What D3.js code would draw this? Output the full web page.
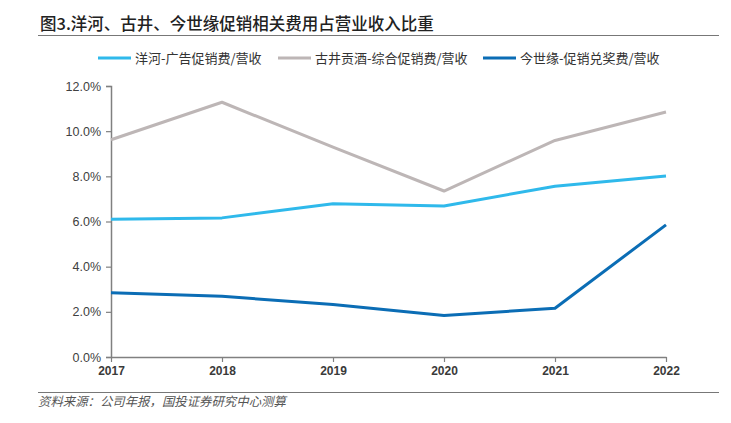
<!DOCTYPE html>
<html>
<head>
<meta charset="utf-8">
<script src="https://cdn.jsdelivr.net/npm/d3@7"></script>
<style>
  body { margin: 0; background: #fff; }
  text { font-family: "Noto Sans CJK SC", sans-serif; }
</style>
</head>
<body>
<script>
const years = ['2017', '2018', '2019', '2020', '2021', '2022'];
const yanghe = [6.10, 6.16, 6.79, 6.69, 7.56, 8.01];
const gujing = [9.62, 11.28, 9.29, 7.35, 9.59, 10.85];
const jinshiyuan = [2.85, 2.69, 2.32, 1.84, 2.16, 5.85];
const yTicks = [0, 2, 4, 6, 8, 10, 12];
const seriesNames = ['洋河-广告促销费/营收', '古井贡酒-综合促销费/营收', '今世缘-促销兑奖费/营收'];
const seriesColors = ['#2fb9eb', '#bdb6b6', '#0b6db5'];

const width = 731;
const height = 423;
const margin = { top: 86, right: 65, bottom: 66, left: 111 };

const svg = d3.select('body')
  .append('svg')
  .attr('width', width)
  .attr('height', height);

// Title
svg.append('text')
  .attr('x', 40)
  .attr('y', 30)
  .attr('font-size', 16.5)
  .attr('font-weight', 500)
  .attr('fill', '#222')
  .text('图3.洋河、古井、今世缘促销相关费用占营业收入比重');
svg.append('line')
  .attr('x1', 38).attr('x2', 719)
  .attr('y1', 35.5).attr('y2', 35.5)
  .attr('stroke', '#777').attr('stroke-width', 1.2);

const x = d3.scalePoint()
  .domain(years)
  .range([margin.left, width - margin.right]);
const y = d3.scaleLinear()
  .domain([0, 12])
  .range([height - margin.bottom, margin.top]);

// Axes
const yAxis = svg.append('g')
  .attr('transform', `translate(${margin.left},0)`)
  .call(d3.axisLeft(y).tickValues(yTicks).tickSize(5).tickPadding(5)
    .tickFormat(d => d.toFixed(1) + '%'));
const xAxis = svg.append('g')
  .attr('transform', `translate(0,${height - margin.bottom})`)
  .call(d3.axisBottom(x).tickSize(5).tickPadding(4).tickSizeOuter(0));

[yAxis, xAxis].forEach(a => {
  a.select('.domain').attr('stroke', '#808080').attr('stroke-width', 1.5);
  a.selectAll('.tick line').attr('stroke', '#808080').attr('stroke-width', 1.2);
  a.selectAll('text')
    .attr('fill', '#404040')
    .style('font-family', '"Liberation Sans", Arial, sans-serif')
    .attr('font-size', 12.5);
});
xAxis.selectAll('text').attr('font-weight', 'bold').attr('fill', '#3a3a3a').attr('font-size', 12);

// Lines
const line = d3.line()
  .x((d, i) => x(years[i]))
  .y(d => y(d));

[yanghe, gujing, jinshiyuan].forEach((s, i) => {
  svg.append('path')
    .datum(s)
    .attr('fill', 'none')
    .attr('stroke', seriesColors[i])
    .attr('stroke-width', 3)
    .attr('stroke-linejoin', 'round')
    .attr('d', line);
});

// Legend
const legendX = [98, 278, 483];
const legend = svg.append('g');
seriesNames.forEach((name, i) => {
  legend.append('line')
    .attr('x1', legendX[i]).attr('x2', legendX[i] + 33)
    .attr('y1', 58).attr('y2', 58)
    .attr('stroke', seriesColors[i]).attr('stroke-width', 3);
  legend.append('text')
    .attr('x', legendX[i] + 37)
    .attr('y', 62.5)
    .attr('font-size', 13)
    .attr('fill', '#333')
    .text(name);
});

// Source
svg.append('line')
  .attr('x1', 38).attr('x2', 719)
  .attr('y1', 392.5).attr('y2', 392.5)
  .attr('stroke', '#777').attr('stroke-width', 1.2);
svg.append('text')
  .attr('x', 38)
  .attr('y', 405.5)
  .attr('font-size', 12.4)
  .attr('font-style', 'italic')
  .attr('fill', '#555')
  .text('资料来源：公司年报，国投证券研究中心测算');
</script>
</body>
</html>
